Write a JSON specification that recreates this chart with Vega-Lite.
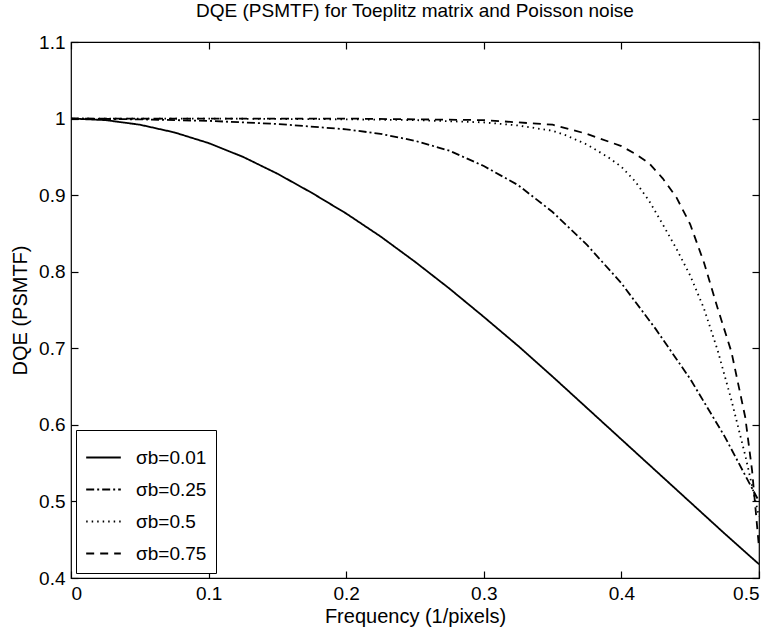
{
  "$schema": "https://vega.github.io/schema/vega-lite/v6.json",
  "width": 688,
  "height": 536,
  "autosize": "none",
  "padding": {"left": 71, "top": 42, "right": 16, "bottom": 54},
  "background": "white",
  "config": {
    "font": "Liberation Sans",
    "view": {"stroke": "black", "strokeWidth": 1.2},
    "axis": {"grid": false, "domain": false, "labelColor": "black", "labelFontSize": 19, "titleFontSize": 20, "titleFontWeight": "normal", "titleColor": "black", "labelFont": "Liberation Sans", "titleFont": "Liberation Sans"}
  },
  "title": {"text": "DQE (PSMTF) for Toeplitz matrix and Poisson noise", "fontSize": 19, "fontWeight": "normal", "font": "Liberation Sans", "color": "black", "offset": 12},
  "data": {"values": [
    {"f": 0, "v": 1.0, "s": "σb=0.01"},
    {"f": 0.025, "v": 0.998, "s": "σb=0.01"},
    {"f": 0.05, "v": 0.992, "s": "σb=0.01"},
    {"f": 0.075, "v": 0.982, "s": "σb=0.01"},
    {"f": 0.1, "v": 0.968, "s": "σb=0.01"},
    {"f": 0.125, "v": 0.95, "s": "σb=0.01"},
    {"f": 0.15, "v": 0.928, "s": "σb=0.01"},
    {"f": 0.175, "v": 0.903, "s": "σb=0.01"},
    {"f": 0.2, "v": 0.876, "s": "σb=0.01"},
    {"f": 0.225, "v": 0.846, "s": "σb=0.01"},
    {"f": 0.25, "v": 0.813, "s": "σb=0.01"},
    {"f": 0.275, "v": 0.778, "s": "σb=0.01"},
    {"f": 0.3, "v": 0.741, "s": "σb=0.01"},
    {"f": 0.325, "v": 0.703, "s": "σb=0.01"},
    {"f": 0.35, "v": 0.663, "s": "σb=0.01"},
    {"f": 0.375, "v": 0.622, "s": "σb=0.01"},
    {"f": 0.4, "v": 0.581, "s": "σb=0.01"},
    {"f": 0.425, "v": 0.54, "s": "σb=0.01"},
    {"f": 0.45, "v": 0.499, "s": "σb=0.01"},
    {"f": 0.475, "v": 0.458, "s": "σb=0.01"},
    {"f": 0.5, "v": 0.418, "s": "σb=0.01"},

    {"f": 0, "v": 1.0, "s": "σb=0.25"},
    {"f": 0.05, "v": 0.999, "s": "σb=0.25"},
    {"f": 0.1, "v": 0.997, "s": "σb=0.25"},
    {"f": 0.15, "v": 0.993, "s": "σb=0.25"},
    {"f": 0.2, "v": 0.986, "s": "σb=0.25"},
    {"f": 0.225, "v": 0.98, "s": "σb=0.25"},
    {"f": 0.25, "v": 0.971, "s": "σb=0.25"},
    {"f": 0.275, "v": 0.958, "s": "σb=0.25"},
    {"f": 0.3, "v": 0.938, "s": "σb=0.25"},
    {"f": 0.325, "v": 0.913, "s": "σb=0.25"},
    {"f": 0.35, "v": 0.878, "s": "σb=0.25"},
    {"f": 0.375, "v": 0.835, "s": "σb=0.25"},
    {"f": 0.4, "v": 0.785, "s": "σb=0.25"},
    {"f": 0.425, "v": 0.725, "s": "σb=0.25"},
    {"f": 0.45, "v": 0.66, "s": "σb=0.25"},
    {"f": 0.475, "v": 0.585, "s": "σb=0.25"},
    {"f": 0.5, "v": 0.5, "s": "σb=0.25"},

    {"f": 0, "v": 1.0, "s": "σb=0.5"},
    {"f": 0.1, "v": 1.0, "s": "σb=0.5"},
    {"f": 0.2, "v": 0.999, "s": "σb=0.5"},
    {"f": 0.25, "v": 0.998, "s": "σb=0.5"},
    {"f": 0.3, "v": 0.995, "s": "σb=0.5"},
    {"f": 0.325, "v": 0.991, "s": "σb=0.5"},
    {"f": 0.35, "v": 0.984, "s": "σb=0.5"},
    {"f": 0.36, "v": 0.978, "s": "σb=0.5"},
    {"f": 0.375, "v": 0.966, "s": "σb=0.5"},
    {"f": 0.39, "v": 0.95, "s": "σb=0.5"},
    {"f": 0.4, "v": 0.937, "s": "σb=0.5"},
    {"f": 0.41, "v": 0.918, "s": "σb=0.5"},
    {"f": 0.42, "v": 0.893, "s": "σb=0.5"},
    {"f": 0.43, "v": 0.862, "s": "σb=0.5"},
    {"f": 0.44, "v": 0.83, "s": "σb=0.5"},
    {"f": 0.45, "v": 0.795, "s": "σb=0.5"},
    {"f": 0.46, "v": 0.752, "s": "σb=0.5"},
    {"f": 0.47, "v": 0.697, "s": "σb=0.5"},
    {"f": 0.48, "v": 0.632, "s": "σb=0.5"},
    {"f": 0.49, "v": 0.56, "s": "σb=0.5"},
    {"f": 0.5, "v": 0.48, "s": "σb=0.5"},

    {"f": 0, "v": 1.0, "s": "σb=0.75"},
    {"f": 0.1, "v": 1.0, "s": "σb=0.75"},
    {"f": 0.2, "v": 1.0, "s": "σb=0.75"},
    {"f": 0.3, "v": 0.998, "s": "σb=0.75"},
    {"f": 0.35, "v": 0.992, "s": "σb=0.75"},
    {"f": 0.375, "v": 0.98, "s": "σb=0.75"},
    {"f": 0.4, "v": 0.964, "s": "σb=0.75"},
    {"f": 0.41, "v": 0.954, "s": "σb=0.75"},
    {"f": 0.42, "v": 0.942, "s": "σb=0.75"},
    {"f": 0.43, "v": 0.922, "s": "σb=0.75"},
    {"f": 0.44, "v": 0.897, "s": "σb=0.75"},
    {"f": 0.45, "v": 0.862, "s": "σb=0.75"},
    {"f": 0.46, "v": 0.812, "s": "σb=0.75"},
    {"f": 0.47, "v": 0.752, "s": "σb=0.75"},
    {"f": 0.48, "v": 0.695, "s": "σb=0.75"},
    {"f": 0.49, "v": 0.61, "s": "σb=0.75"},
    {"f": 0.495, "v": 0.54, "s": "σb=0.75"},
    {"f": 0.5, "v": 0.44, "s": "σb=0.75"}
  ]},
  "layer": [
    {
      "mark": {"type": "line", "color": "black", "strokeWidth": 1.8, "clip": true},
      "encoding": {
        "x": {"field": "f", "type": "quantitative", "scale": {"domain": [0, 0.5], "nice": false, "zero": false},
              "axis": {"orient": "bottom", "ticks": true, "tickSize": -7, "tickColor": "black", "tickWidth": 1.2, "zindex": 1, "values": [0, 0.1, 0.2, 0.3, 0.4, 0.5], "labelExpr": "format(datum.value, '~g')", "title": "Frequency (1/pixels)", "labelPadding": 13, "titlePadding": 3}},
        "y": {"field": "v", "type": "quantitative", "scale": {"domain": [0.4, 1.1], "nice": false, "zero": false},
              "axis": {"orient": "left", "ticks": true, "tickSize": -7, "tickColor": "black", "tickWidth": 1.2, "zindex": 1, "values": [0.4, 0.5, 0.6, 0.7, 0.8, 0.9, 1, 1.1], "labelExpr": "format(datum.value, '~g')", "title": "DQE (PSMTF)", "labelPadding": 13, "titlePadding": 8}},
        "strokeDash": {"field": "s", "type": "nominal",
          "scale": {"domain": ["σb=0.01", "σb=0.25", "σb=0.5", "σb=0.75"], "range": [[1, 0], [8, 3, 2, 3], [1.5, 4], [8, 6]]},
          "legend": {"title": null, "orient": "bottom-left", "offset": 5, "zindex": 2, "strokeColor": "black", "fillColor": "white", "padding": 9, "rowPadding": 3, "labelFontSize": 19, "labelFont": "Liberation Sans", "labelColor": "black", "symbolType": "stroke", "symbolSize": 1200, "symbolStrokeWidth": 1.8, "symbolStrokeColor": "black", "cornerRadius": 0, "labelOffset": 14}}
      }
    },
    {
      "mark": {"type": "rule", "opacity": 0},
      "data": {"values": [{"f": 0, "v": 0.4}]},
      "encoding": {
        "x": {"field": "f", "type": "quantitative", "axis": {"orient": "top", "ticks": true, "tickSize": -7, "tickColor": "black", "tickWidth": 1.2, "zindex": 1, "values": [0, 0.1, 0.2, 0.3, 0.4, 0.5], "labels": false, "title": null}},
        "y": {"field": "v", "type": "quantitative", "axis": {"orient": "right", "ticks": true, "tickSize": -7, "tickColor": "black", "tickWidth": 1.2, "zindex": 1, "values": [0.4, 0.5, 0.6, 0.7, 0.8, 0.9, 1, 1.1], "labels": false, "title": null}}
      }
    }
  ],
  "resolve": {"axis": {"x": "independent", "y": "independent"}}
}
